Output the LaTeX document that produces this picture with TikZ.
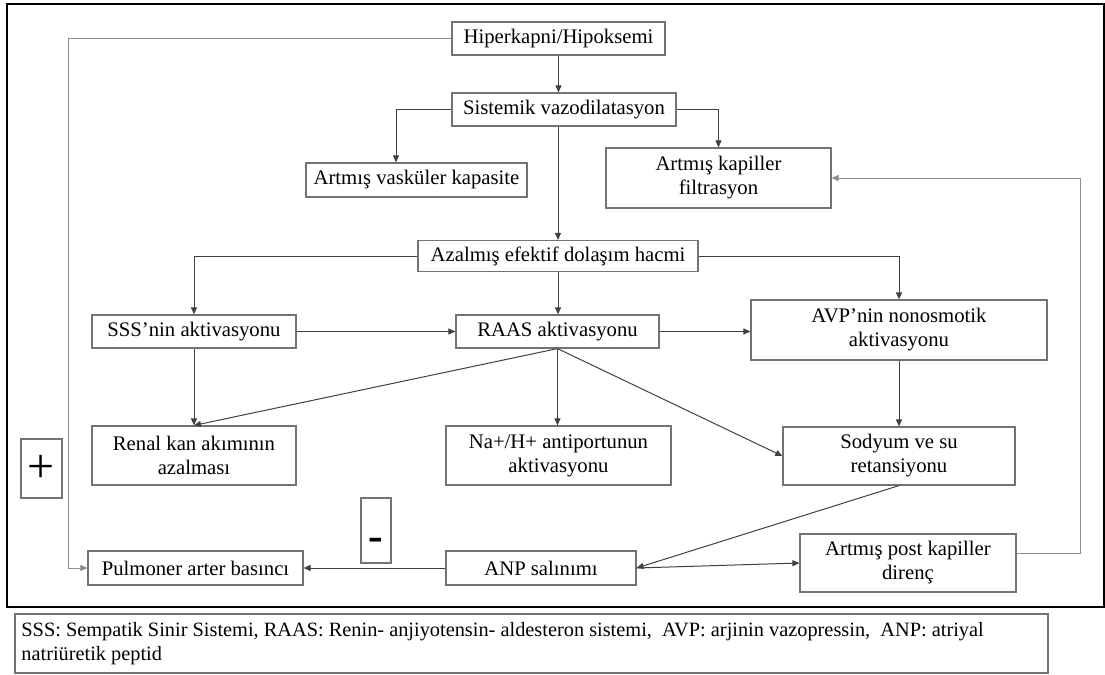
\documentclass[tikz,border=0pt]{standalone}
\usepackage{fontspec}
\setmainfont{Liberation Serif}
\usetikzlibrary{arrows.meta,calc}

\newcommand{\boxfont}{\fontsize{10.35pt}{12pt}\selectfont}
\newcommand{\notefont}{\fontsize{10.17pt}{12pt}\selectfont}

\tikzset{
  box/.style={draw=black!55, line width=0.6pt, fill=white, inner sep=0pt,
    align=center, font=\boxfont},
  link/.style={draw=black!75, line width=0.5pt,
    -{Triangle[length=3.5pt,width=3pt]}},
  loop/.style={link, draw=black!45},
  sign/.style={draw=black!55, line width=0.6pt, inner sep=0pt}
}

\begin{document}
\begin{tikzpicture}[x=0.5pt,y=-0.5pt]
\useasboundingbox (0,0) rectangle (1105,675);

% outer frame of the flow chart
\draw[line width=1.25pt] (7,4) rectangle (1104,607);

% boxes
\node[box, minimum width=106.5pt, minimum height=16.5pt] (hip)   at (558.5,38.5) {Hiperkapni/Hipoksemi};
\node[box, minimum width=112pt,   minimum height=16.5pt] (sis)   at (564,109.5)  {Sistemik vazodilatasyon};
\node[box, minimum width=110.5pt, minimum height=17pt]   (vask)  at (416.5,180)  {Artmış vasküler kapasite};
\node[box, minimum width=112.5pt, minimum height=30pt]   (filt)  at (718.5,178)  {Artmış kapiller\\filtrasyon};
\node[box, minimum width=140pt,   minimum height=15.5pt] (azal)  at (558,256)    {Azalmış efektif dolaşım hacmi};
\node[box, minimum width=102pt,   minimum height=16.5pt] (sss)   at (194,331.5)  {SSS’nin aktivasyonu};
\node[box, minimum width=101.5pt, minimum height=16.5pt] (raas)  at (557.5,331.5){RAAS aktivasyonu};
\node[box, minimum width=148pt,   minimum height=30pt]   (avp)   at (899,330)    {AVP’nin nonosmotik\\aktivasyonu};
\node[box, minimum width=102pt,   minimum height=29.5pt] (renal) at (194,455.5)  {Renal kan akımının\\azalması};
\node[box, minimum width=112.5pt, minimum height=29.5pt] (na)    at (558.5,455.5){Na+/H+ antiportunun\\aktivasyonu};
\node[box, minimum width=116pt,   minimum height=29pt]   (sod)   at (899,456)    {Sodyum ve su\\retansiyonu};
\node[box, minimum width=107.5pt, minimum height=17pt]   (pulm)  at (195.5,568)  {Pulmoner arter basıncı};
\node[box, minimum width=95pt,    minimum height=17pt]   (anp)   at (541,568)    {ANP salınımı};
\node[box, minimum width=108pt,   minimum height=29pt]   (post)  at (908,563)    {Artmış post kapiller\\direnç};

% feedback signs
\node[sign, minimum width=20.5pt, minimum height=29.5pt, font=\fontsize{24pt}{24pt}\selectfont] (plus) at (41.5,468.5) {+};
\node[sign, minimum width=15pt, minimum height=32.5pt, font=\fontsize{22pt}{22pt}\selectfont\bfseries] (minus) at (376,530.5)
  {\raisebox{0pt}[\dimexpr\height+14pt\relax][0pt]{-}};

% loop turning points
\coordinate (lloop) at (68,38.5);
\coordinate (rloop) at (1080,553);

% connectors
\draw[link] (hip.south) -- (hip.south |- sis.north);
\draw[link] (sis.west) -| ($(vask.north)+(-20.5,0)$);
\draw[link] (sis.east) -| (filt.north);
\draw[link] (azal.north |- sis.south) -- (azal.north);
\draw[link] (azal.west) -| (sss.north);
\draw[link] (azal.east) -| (avp.north);
\draw[link] (azal.south) -- (azal.south |- raas.north);
\draw[link] (sss.east) -- (raas.west);
\draw[link] (raas.east) -- (raas.east -| avp.west);
\draw[link] (sss.south) -- (renal.north);
\draw[link] (raas.south) -- (renal.north);
\draw[link] (raas.south) -- (raas.south |- na.north);
\draw[link] (raas.south) -- (sod.west);
\draw[link] (avp.south) -- (sod.north);
\draw[link] (sod.south) -- (anp.east);
\draw[link] (anp.east) -- (post.west);
\draw[link] (anp.west) -- (pulm.east);
\draw[loop] ($(post.east)+(0,-10)$) -- (rloop) |- (filt.east);
\draw[loop] (hip.west) -- (lloop) |- (pulm.west);

% abbreviations
\draw[draw=black!55, line width=0.6pt] (15,614) rectangle (1048,673);
\node[anchor=west, align=left, inner sep=0pt, font=\notefont] (legend) at (21,644)
  {SSS: Sempatik Sinir Sistemi, RAAS: Renin- anjiyotensin- aldesteron sistemi,\ \ AVP: arjinin vazopressin,\ \ ANP: atriyal\\natriüretik peptid};
\end{tikzpicture}
\end{document}
